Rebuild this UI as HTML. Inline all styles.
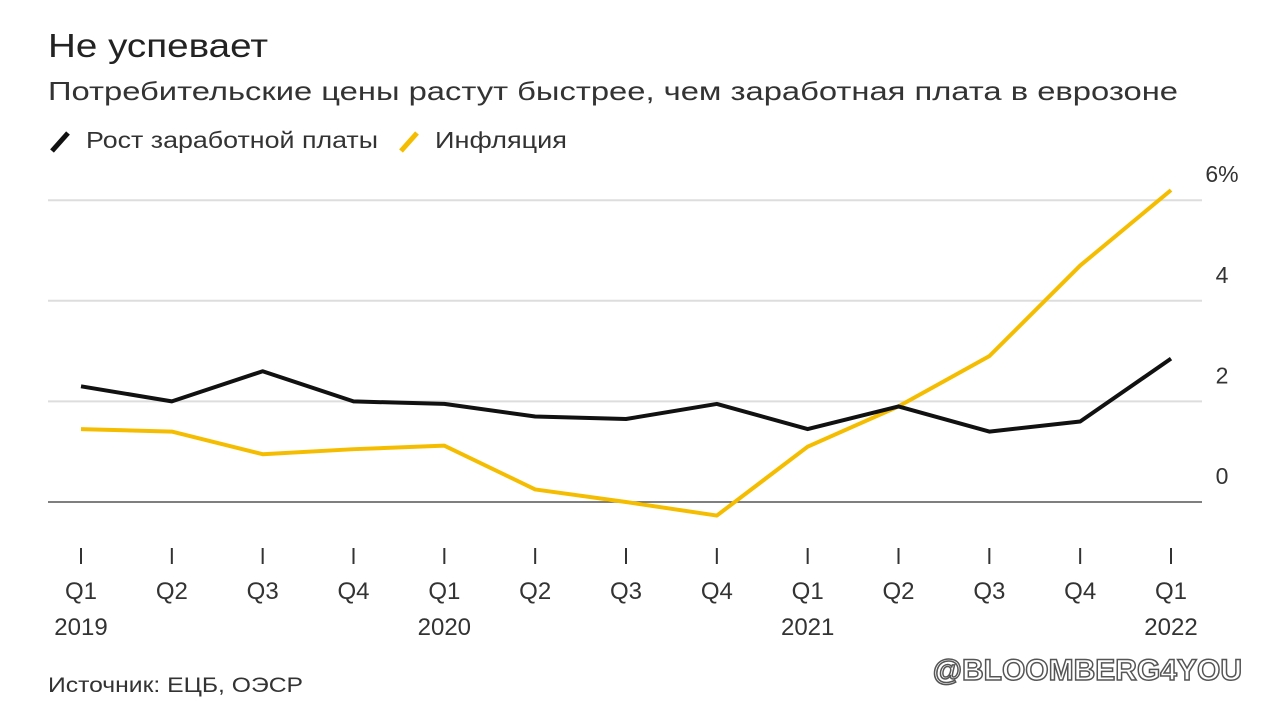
<!DOCTYPE html>
<html><head><meta charset="utf-8"><style>
body{margin:0;background:#fff;width:1280px;height:716px;overflow:hidden;font-family:"Liberation Sans",sans-serif;}
</style></head><body>
<svg width="1280" height="716" style="position:absolute;left:0;top:0">
<text x="48" y="57" font-size="33" fill="#222" textLength="220" lengthAdjust="spacingAndGlyphs">Не успевает</text>
<text x="48" y="100" font-size="26" fill="#333" textLength="1130" lengthAdjust="spacingAndGlyphs">Потребительские цены растут быстрее, чем заработная плата в еврозоне</text>
<g>
<line x1="52" y1="151" x2="68" y2="133" stroke="#111" stroke-width="5"/>
<text x="86" y="148" font-size="23" fill="#333" textLength="292" lengthAdjust="spacingAndGlyphs">Рост заработной платы</text>
<line x1="401" y1="151" x2="417" y2="133" stroke="#f5bd00" stroke-width="5"/>
<text x="435" y="148" font-size="23" fill="#333" textLength="132" lengthAdjust="spacingAndGlyphs">Инфляция</text>
</g>
<g id="grid"></g><g id="xax"></g><g id="series"></g>
<text x="48" y="692" font-size="21" fill="#333" textLength="255" lengthAdjust="spacingAndGlyphs">Источник: ЕЦБ, ОЭСР</text>
<text x="1242" y="680" font-size="30" font-weight="bold" fill="#fff" stroke="#555" stroke-width="1.5" text-anchor="end">@BLOOMBERG4YOU</text>
</svg>
<script>
const quarters=["Q1","Q2","Q3","Q4","Q1","Q2","Q3","Q4","Q1","Q2","Q3","Q4","Q1"];
const years=["2019","","","","2020","","","","2021","","","","2022"];
const wages=[2.3,2.0,2.6,2.0,1.95,1.7,1.65,1.95,1.45,1.9,1.4,1.6,2.85];
const inflation=[1.45,1.4,0.95,1.05,1.12,0.25,0,-0.27,1.1,1.9,2.9,4.7,6.2];
const yTicks=[0,2,4,6];
const yLabels=["0","2","4","6%"];
const NS="http://www.w3.org/2000/svg";
const x=i=>81+i*(1171-81)/(quarters.length-1);
const y=v=>502-v*50.3;
function mk(t,a,p){const e=document.createElementNS(NS,t);for(const k in a)e.setAttribute(k,a[k]);p.appendChild(e);return e;}
const grid=document.getElementById('grid');
yTicks.forEach((t,i)=>{
 const l=mk('line',{x1:48,x2:1202,y1:y(t),y2:y(t),stroke:t===0?'#555':'#ddd','stroke-width':t===0?1.5:2},grid);
 
 
 const tx=mk('text',{x:1222,y:y(t)-18,'font-size':23,fill:'#333','text-anchor':'middle'},grid);
 tx.textContent=yLabels[i];
 
 
});
const xax=document.getElementById('xax');
quarters.forEach((q,i)=>{
 const l=mk('line',{x1:x(i),x2:x(i),y1:548,y2:564,stroke:'#333','stroke-width':2},xax);
 
 
 const t=mk('text',{x:x(i),y:599,'font-size':24,fill:'#333','text-anchor':'middle'},xax);
 t.textContent=q;
 
 
 if(years[i]){const yt=mk('text',{x:x(i),y:635,'font-size':24,fill:'#333','text-anchor':'middle'},xax);
 yt.textContent=years[i];
 
 }
});
const s=document.getElementById('series');
const p1=mk('polyline',{points:inflation.map((v,i)=>x(i)+','+y(v)).join(' '),fill:'none',stroke:'#f5bd00','stroke-width':4,'stroke-linejoin':'round'},s);


const p2=mk('polyline',{points:wages.map((v,i)=>x(i)+','+y(v)).join(' '),fill:'none',stroke:'#111','stroke-width':4,'stroke-linejoin':'round'},s);


</script>
</body></html>
